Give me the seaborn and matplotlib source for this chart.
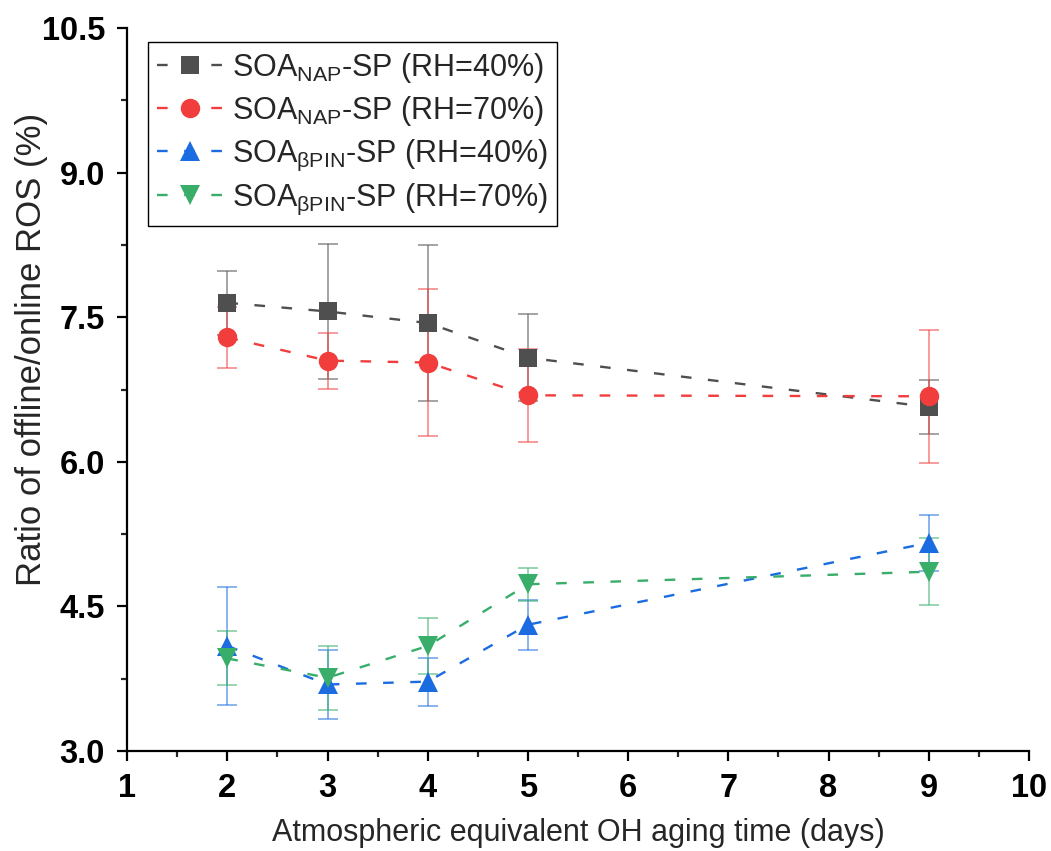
import numpy as np
import pandas as pd
import matplotlib
matplotlib.use("Agg")
import matplotlib.pyplot as plt
import seaborn as sns

# aging time (days) and ratio of offline/online ROS (%) with error bars
days = [2, 3, 4, 5, 9]
nap_40 = [7.65, 7.56, 7.44, 7.08, 6.57]
nap_40_err = [0.33, 0.70, 0.81, 0.45, 0.28]
nap_70 = [7.29, 7.05, 7.03, 6.69, 6.68]
nap_70_err = [0.32, 0.29, 0.76, 0.48, 0.69]
pin_40 = [4.09, 3.69, 3.72, 4.31, 5.16]
pin_40_err = [0.61, 0.36, 0.25, 0.26, 0.29]
pin_70 = [3.96, 3.76, 4.09, 4.73, 4.86]
pin_70_err = [0.28, 0.33, 0.29, 0.17, 0.35]

labels = [r'SOA$_{\mathregular{NAP}}$-SP (RH=40%)',
          r'SOA$_{\mathregular{NAP}}$-SP (RH=70%)',
          r'SOA$_{\mathregular{\beta PIN}}$-SP (RH=40%)',
          r'SOA$_{\mathregular{\beta PIN}}$-SP (RH=70%)']
colors = ['#4f4f4f', '#f23d3d', '#1a6ce0', '#38ae6a']
markers = ['s', 'o', '^', 'v']
msizes = [12.5, 14, 15, 15]

sns.set_style('ticks')
plt.rcParams['font.family'] = ['Liberation Sans', 'DejaVu Sans']
plt.rcParams['mathtext.fontset'] = 'custom'
plt.rcParams['mathtext.rm'] = 'Liberation Sans'

values = [nap_40, nap_70, pin_40, pin_70]
errors = [nap_40_err, nap_70_err, pin_40_err, pin_70_err]
df = pd.DataFrame({
    'days': days * 4,
    'ratio': sum(values, []),
    'err': sum(errors, []),
    'series': [lab for lab in labels for _ in days],
})

fig = plt.figure(figsize=(10.51, 8.51), dpi=100)
ax = fig.add_axes([0.121, 0.1175, 0.858, 0.8495])

for lab, col, mk, ms in zip(labels, colors, markers, msizes):
    sub = df[df.series == lab]
    ax.errorbar(sub.days, sub.ratio, yerr=sub.err, fmt='none', ecolor=col,
                alpha=0.6, elinewidth=1.2, capsize=7, capthick=1.2, zorder=2)
    sns.lineplot(data=sub, x='days', y='ratio', color=col, marker=mk,
                 markersize=ms, markeredgewidth=0, linewidth=1.7,
                 dashes=False, linestyle=(0, (4.5, 7)), label=lab,
                 ax=ax, zorder=3)

ax.set_xlim(1, 10)
ax.set_ylim(3.0, 10.5)
ax.set_xticks(range(1, 11))
ax.set_xticks(np.arange(1.5, 10, 1), minor=True)
ax.set_yticks(np.arange(3.0, 10.6, 1.5))
ax.set_yticks(np.arange(3.75, 10.5, 1.5), minor=True)
ax.yaxis.set_major_formatter(matplotlib.ticker.FormatStrFormatter('%.1f'))
for s in ['top', 'right']:
    ax.spines[s].set_visible(False)
for s in ['left', 'bottom']:
    ax.spines[s].set_linewidth(1.6)
    ax.spines[s].set_color('black')
ax.tick_params(which='major', direction='out', length=7, width=1.6,
               labelsize=23.5, colors='black', pad=9)
ax.tick_params(which='minor', direction='out', length=4, width=1.6)
for t in ax.get_xticklabels() + ax.get_yticklabels():
    t.set_fontweight('bold')

ax.set_xlabel('Atmospheric equivalent OH aging time (days)', fontsize=22)
ax.set_ylabel('Ratio of offline/online ROS (%)', fontsize=25)
ax.xaxis.set_label_coords(0.5, -0.092)
ax.yaxis.set_label_coords(-0.088, 0.556)

leg = ax.legend(loc='upper left', bbox_to_anchor=(0.023, 0.981),
                borderaxespad=0, fontsize=22, frameon=True, fancybox=False,
                edgecolor='black', framealpha=1, handlelength=2.15,
                handletextpad=0.3, labelspacing=0.3, borderpad=0.3)
leg.get_frame().set_linewidth(1.0)

fig.savefig('out.png', dpi=100)
